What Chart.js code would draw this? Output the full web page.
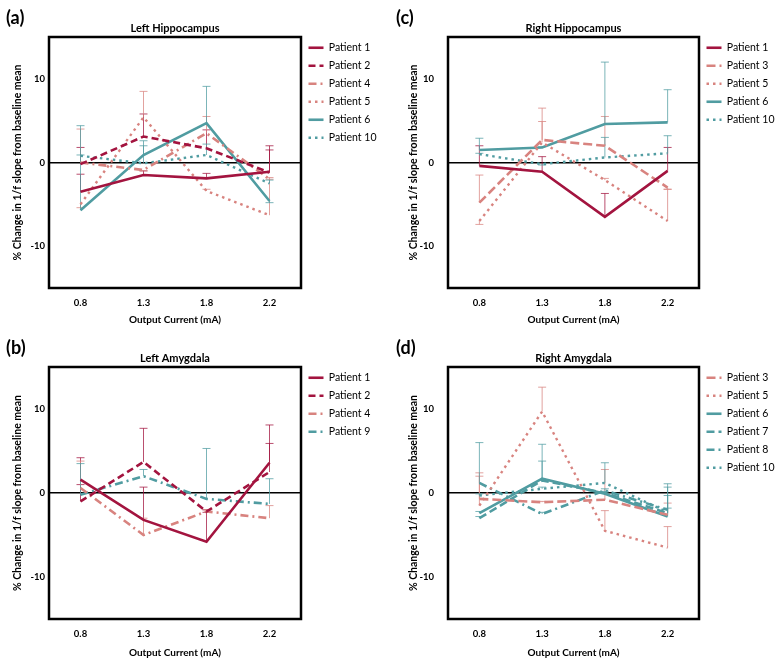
<!DOCTYPE html>
<html>
<head>
<meta charset="utf-8">
<script src="https://cdn.jsdelivr.net/npm/chart.js@4.4.1/dist/chart.umd.min.js"></script>
<style>
  html, body { margin: 0; padding: 0; background: #fff; }
  #wrap { position: relative; width: 783px; height: 666px; overflow: hidden; }
  .panel { position: absolute; }
  .tag { position: absolute; font: bold 18px Lato, sans-serif; color: #000; line-height: 18px; }
</style>
</head>
<body>
<div id="wrap">
  <div class="panel" style="left:0;top:0;width:390px;height:330px"><canvas id="chartA"></canvas></div>
  <div class="panel" style="left:390px;top:0;width:393px;height:330px"><canvas id="chartC"></canvas></div>
  <div class="panel" style="left:0;top:330px;width:390px;height:336px"><canvas id="chartB"></canvas></div>
  <div class="panel" style="left:390px;top:330px;width:393px;height:336px"><canvas id="chartD"></canvas></div>
  <div class="tag" style="left:6px;top:8px">(a)</div>
  <div class="tag" style="left:396px;top:8px">(c)</div>
  <div class="tag" style="left:6px;top:338px">(b)</div>
  <div class="tag" style="left:396px;top:338px">(d)</div>
</div>
<script>
// ---- data ----
const currents = ['0.8', '1.3', '1.8', '2.2'];
const yTicks = [-10, 0, 10];

// (a) Left Hippocampus  (values, and where each error bar ends)
const lhP1 = [-3.5, -1.5, -1.9, -1.1];   const lhP1Cap = [-1.4, -1.0, -1.3, 2.0];
const lhP2 = [-0.2, 3.1, 1.7, -1.2];     const lhP2Cap = [1.8, 5.8, 3.9, 1.5];
const lhP4 = [0.0, -0.9, 3.5, -2.0];     const lhP4Cap = [4.0, -1.0, 5.5, -1.8];
const lhP5 = [-5.0, 5.4, -3.4, -6.3];    const lhP5Cap = [-5.4, 8.5, -3.2, -2.0];
const lhP6 = [-5.7, 0.9, 4.7, -4.6];     const lhP6Cap = [4.4, 2.6, 9.1, -4.8];
const lhP10 = [0.8, -0.1, 0.9, -2.5];    const lhP10Cap = [0.9, 2.0, 2.2, -2.1];

// (c) Right Hippocampus
const rhP1 = [-0.4, -1.1, -6.5, -1.0];   const rhP1Cap = [2.0, 0.7, -3.7, 1.8];
const rhP3 = [-4.8, 2.7, 2.0, -3.0];     const rhP3Cap = [-1.5, 6.5, 5.5, -3.2];
const rhP5 = [-7.0, 2.4, -2.1, -7.0];    const rhP5Cap = [-7.4, 4.9, -1.9, -3.2];
const rhP6 = [1.5, 1.8, 4.6, 4.8];       const rhP6Cap = [2.9, 1.9, 12.0, 8.7];
const rhP10 = [1.0, -0.2, 0.6, 1.1];     const rhP10Cap = [1.1, -0.3, 3.0, 3.2];

// (b) Left Amygdala
const laP1 = [1.6, -3.2, -5.8, 3.6];     const laP1Cap = [4.2, 0.7, -2.3, 8.1];
const laP2 = [-1.0, 3.7, -2.2, 2.5];     const laP2Cap = [1.0, 7.7, -2.0, 5.9];
const laP4 = [0.6, -5.0, -2.2, -3.0];    const laP4Cap = [3.8, -3.0, -2.0, -1.5];
const laP9 = [-0.2, 2.0, -0.7, -1.3];    const laP9Cap = [3.5, 2.8, 5.3, 1.7];

// (d) Right Amygdala
const raP3 = [-0.7, -1.1, -0.8, -2.6];   const raP3Cap = [2.4, -1.0, 2.8, -1.2];
const raP5 = [-1.5, 9.7, -4.5, -6.5];    const raP5Cap = [2.0, 12.6, -2.1, -4.0];
const raP6 = [-2.4, 1.7, -0.1, -2.8];    const raP6Cap = [-2.2, 5.8, 0.0, 1.1];
const raP7 = [-3.0, 1.5, 0.0, -2.4];     const raP7Cap = [-2.8, 3.8, 0.2, -0.3];
const raP8 = [1.2, -2.5, 0.3, -2.0];     const raP8Cap = [6.0, -2.3, 0.5, -1.8];
const raP10 = [-0.3, 0.5, 1.2, -2.3];    const raP10Cap = [-0.1, 0.7, 3.6, 0.7];

// ---- styles ----
const FONT = 'Lato, "Open Sans", sans-serif';
const crimson = '#a3143f';
const salmon = '#d8837f';
const teal = '#509ca1';
const styles = {
  'Patient 1':  { color: crimson, dash: [],           width: 2.6 },
  'Patient 2':  { color: crimson, dash: [7, 4],       width: 2.6 },
  'Patient 3':  { color: salmon,  dash: [9, 4],       width: 2.6 },
  'Patient 4':  { color: salmon,  dash: [8, 4, 2, 4], width: 2.6 },
  'Patient 5':  { color: salmon,  dash: [2.5, 4],     width: 2.4 },
  'Patient 6':  { color: teal,    dash: [],           width: 2.6 },
  'Patient 7':  { color: teal,    dash: [8, 4],       width: 2.6 },
  'Patient 8':  { color: teal,    dash: [8, 4, 2, 4], width: 2.6 },
  'Patient 9':  { color: teal,    dash: [8, 4, 2, 4], width: 2.6 },
  'Patient 10': { color: teal,    dash: [2.5, 4],     width: 2.4 }
};

function fade(hex, a) {
  const n = parseInt(hex.slice(1), 16);
  return `rgba(${n >> 16},${(n >> 8) & 255},${n & 255},${a})`;
}

// error bars, plot frame, fixed legend width
const panelBox = {
  id: 'panelBox',
  afterInit(chart) {
    const lg = chart.legend;
    const fit = lg.fit.bind(lg);
    lg.fit = function () { fit(); this.width = chart.options.plugins.panelBox.legendWidth; };
  },
  afterLayout(chart) {
    const s = chart.options.plugins.panelBox.legendShift;
    chart.legend.top += s;
    chart.legend.bottom += s;
  },
  beforeDatasetsDraw(chart) {
    const ctx = chart.ctx, y = chart.scales.y;
    ctx.save();
    ctx.lineWidth = 1;
    chart.data.datasets.forEach((ds, d) => {
      const meta = chart.getDatasetMeta(d);
      ctx.strokeStyle = fade(ds.borderColor, 0.75);
      ds.caps.forEach((cap, i) => {
        if (cap == null) return;
        const p = meta.data[i];
        const yc = y.getPixelForValue(cap);
        ctx.beginPath();
        ctx.moveTo(p.x, p.y); ctx.lineTo(p.x, yc);
        ctx.moveTo(p.x - 4, yc); ctx.lineTo(p.x + 4, yc);
        ctx.stroke();
      });
    });
    ctx.restore();
  },
  afterDatasetsDraw(chart) {
    const {ctx, chartArea: a} = chart;
    ctx.save();
    ctx.strokeStyle = '#000';
    ctx.lineWidth = 2.5;
    ctx.strokeRect(a.left, a.top, a.right - a.left, a.bottom - a.top);
    ctx.restore();
  }
};

// legend samples: use the dataset's own line style
function lineLabels(chart) {
  return chart.data.datasets.map((ds, i) => ({
    text: ds.label,
    fillStyle: ds.borderColor,
    strokeStyle: ds.borderColor,
    lineWidth: ds.borderWidth,
    lineDash: ds.borderDash,
    lineCap: 'butt',
    pointStyle: 'line',
    fontColor: '#000',
    hidden: false,
    datasetIndex: i
  }));
}

function makeChart(id, lay, title, sets) {
  const yTitleLH = 10.5 * 1.2, xTitleLH = 10 * 1.2;
  return new Chart(document.getElementById(id), {
    type: 'line',
    data: {
      labels: currents,
      datasets: sets.map(([name, values, caps]) => ({
        label: name,
        data: values,
        caps: caps,
        borderColor: styles[name].color,
        backgroundColor: styles[name].color,
        borderWidth: styles[name].width,
        borderDash: styles[name].dash,
        borderCapStyle: 'butt',
        pointRadius: 0,
        pointHoverRadius: 0,
        tension: 0,
        fill: false
      }))
    },
    options: {
      responsive: true,
      maintainAspectRatio: false,
      animation: false,
      layout: { padding: { left: 2, right: 2, top: lay.plotT - 15.2, bottom: 2 } },
      plugins: {
        title: {
          display: true, text: title, fullSize: false, color: '#000',
          font: { family: FONT, size: 11, weight: 'bold' },
          padding: { top: 0, bottom: 2 }
        },
        legend: {
          position: 'right', align: 'start', fullSize: false,
          labels: {
            usePointStyle: true, pointStyle: 'line', pointStyleWidth: 15,
            padding: 7.5, color: '#000',
            font: { family: FONT, size: 10.5 },
            generateLabels: lineLabels
          }
        },
        tooltip: { enabled: false },
        panelBox: { legendWidth: lay.w - 2 - lay.plotR, legendShift: -2 }
      },
      scales: {
        x: {
          type: 'category',
          offset: true,
          grid: { display: false, drawTicks: false },
          border: { display: false },
          ticks: { color: '#000', padding: 9.5, font: { family: FONT, size: 9.5, weight: 'bold' } },
          title: {
            display: true, text: 'Output Current (mA)', color: '#000',
            font: { family: FONT, size: 10, weight: 'bold' },
            padding: { top: 0, bottom: lay.h - 2 - lay.xTitleY - xTitleLH / 2 }
          },
          afterFit: s => { s.height = lay.h - 2 - lay.plotB; }
        },
        y: {
          min: -15, max: 15,
          afterBuildTicks: s => { s.ticks = yTicks.map(v => ({ value: v })); },
          grid: {
            drawTicks: false,
            color: c => (c.tick && c.tick.value === 0 ? '#000' : 'rgba(0,0,0,0)'),
            lineWidth: 1.5
          },
          border: { display: false },
          ticks: { color: '#000', padding: lay.plotL - lay.tickR, font: { family: FONT, size: 9.5, weight: 'bold' } },
          title: {
            display: true, text: '% Change in 1/f slope from baseline mean', color: '#000',
            font: { family: FONT, size: 10.5, weight: 'bold' },
            padding: { top: lay.yTitleX - 2 - yTitleLH / 2, bottom: 0 }
          },
          afterFit: s => { s.width = lay.plotL - 2; }
        }
      }
    },
    plugins: [panelBox]
  });
}

const leftTop = { w: 390, h: 330, plotL: 49, plotR: 301, plotT: 37, plotB: 288, tickR: 45, yTitleX: 18, xTitleY: 320 };
const rightTop = { w: 393, h: 330, plotL: 58, plotR: 309, plotT: 37, plotB: 288, tickR: 44, yTitleX: 24, xTitleY: 320 };
const leftBot = { w: 390, h: 336, plotL: 49, plotR: 301, plotT: 37, plotB: 289, tickR: 45, yTitleX: 18, xTitleY: 323 };
const rightBot = { w: 393, h: 336, plotL: 58, plotR: 309, plotT: 37, plotB: 289, tickR: 44, yTitleX: 24, xTitleY: 323 };

makeChart('chartA', leftTop, 'Left Hippocampus', [
  ['Patient 1', lhP1, lhP1Cap], ['Patient 2', lhP2, lhP2Cap], ['Patient 4', lhP4, lhP4Cap],
  ['Patient 5', lhP5, lhP5Cap], ['Patient 6', lhP6, lhP6Cap], ['Patient 10', lhP10, lhP10Cap]
]);
makeChart('chartC', rightTop, 'Right Hippocampus', [
  ['Patient 1', rhP1, rhP1Cap], ['Patient 3', rhP3, rhP3Cap], ['Patient 5', rhP5, rhP5Cap],
  ['Patient 6', rhP6, rhP6Cap], ['Patient 10', rhP10, rhP10Cap]
]);
makeChart('chartB', leftBot, 'Left Amygdala', [
  ['Patient 1', laP1, laP1Cap], ['Patient 2', laP2, laP2Cap], ['Patient 4', laP4, laP4Cap],
  ['Patient 9', laP9, laP9Cap]
]);
makeChart('chartD', rightBot, 'Right Amygdala', [
  ['Patient 3', raP3, raP3Cap], ['Patient 5', raP5, raP5Cap], ['Patient 6', raP6, raP6Cap],
  ['Patient 7', raP7, raP7Cap], ['Patient 8', raP8, raP8Cap], ['Patient 10', raP10, raP10Cap]
]);
</script>
</body>
</html>
